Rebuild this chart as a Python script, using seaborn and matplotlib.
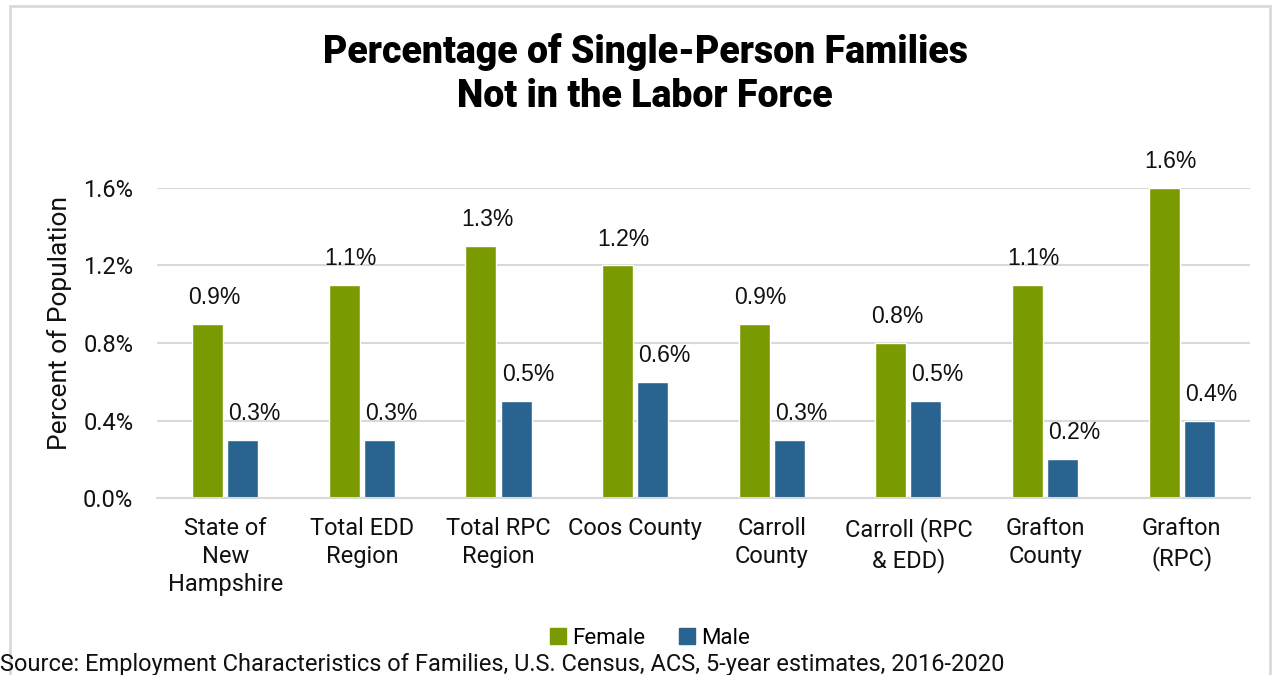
import matplotlib
matplotlib.use("Agg")
import matplotlib.pyplot as plt
import seaborn as sns
import pandas as pd
from matplotlib.patches import Rectangle

# data
categories = ["State of\nNew\nHampshire", "Total EDD\nRegion", "Total RPC\nRegion",
              "Coos County", "Carroll\nCounty", "Carroll (RPC\n& EDD)",
              "Grafton\nCounty", "Grafton\n(RPC)"]
female = [0.9, 1.1, 1.3, 1.2, 0.9, 0.8, 1.1, 1.6]
male = [0.3, 0.3, 0.5, 0.6, 0.3, 0.5, 0.2, 0.4]
yticks = [0.0, 0.4, 0.8, 1.2, 1.6]

df = pd.DataFrame({
    "category": categories * 2,
    "value": female + male,
    "sex": ["Female"] * len(categories) + ["Male"] * len(categories),
})

sns.set_theme(style="white")
plt.rcParams["font.family"] = ["Roboto", "DejaVu Sans"]
plt.rcParams["text.color"] = "black"

fig = plt.figure(figsize=(12.75, 6.75), dpi=100)
ax = fig.add_axes([0.1231, 0.2622, 0.8573, 0.4593])

palette = {"Female": "#7a9a01", "Male": "#28648f"}
sns.barplot(data=df, x="category", y="value", hue="sex", palette=palette,
            width=0.514, gap=0.117, saturation=1, ax=ax)

ax.set_xlim(-0.5, len(categories) - 0.5)
ax.set_ylim(0, 1.6)
ax.set_yticks(yticks)
ax.set_yticklabels([f"{t:.1f}%" for t in yticks], fontsize=17, color="#111111")
ax.tick_params(axis="y", length=0, pad=17)
ax.tick_params(axis="x", length=0, pad=14)
for lab in ax.get_xticklabels():
    lab.set_fontsize(17)
    lab.set_linespacing(1.27)
    lab.set_color("#111111")
ax.set_xlabel("")
ax.set_ylabel("Percent of Population", fontsize=19, color="#111111")
ax.yaxis.set_label_coords(-0.078, 0.565)
ax.yaxis.grid(True, color="#d9d9d9", linewidth=1.5)
ax.set_axisbelow(True)
for s in ["left", "right", "top"]:
    ax.spines[s].set_visible(False)
ax.spines["bottom"].set_color("#d9d9d9")
ax.spines["bottom"].set_linewidth(1.5)

# value labels
for container, dx in zip(ax.containers, [4.5, 8.5]):
    for bar in container:
        h = bar.get_height()
        ax.annotate(f"{h:.1f}%", (bar.get_x() + bar.get_width() / 2, h),
                    xytext=(dx, 19), textcoords="offset points",
                    ha="center", va="center", fontsize=16.5,
                    family=["Liberation Sans", "DejaVu Sans"],
                    annotation_clip=False, color="#111111")

ax.legend_.remove()
handles = [Rectangle((0, 0), 1, 1, color=palette[k]) for k in ["Female", "Male"]]
fig.legend(handles, ["Female", "Male"], loc="center", bbox_to_anchor=(0.51, 0.054),
           ncol=2, frameon=False, fontsize=16, handlelength=0.7, handleheight=0.7,
           handletextpad=0.3, columnspacing=1.5)

fig.suptitle("Percentage of Single-Person Families\nNot in the Labor Force",
             x=0.506, y=0.951, fontsize=27, fontweight="black", linespacing=1.25,
             color="black")

fig.text(0.0, 0.015, "Source: Employment Characteristics of Families, U.S. Census, ACS, 5-year estimates, 2016-2020",
         fontsize=17, ha="left", va="center", color="#111111")

# chart border
fig.patches.append(Rectangle((10 / 1275, -0.1), 1260 / 1275, 1.091, transform=fig.transFigure,
                             fill=False, edgecolor="#d9d9d9", linewidth=2))

fig.savefig("out.png", dpi=100)
